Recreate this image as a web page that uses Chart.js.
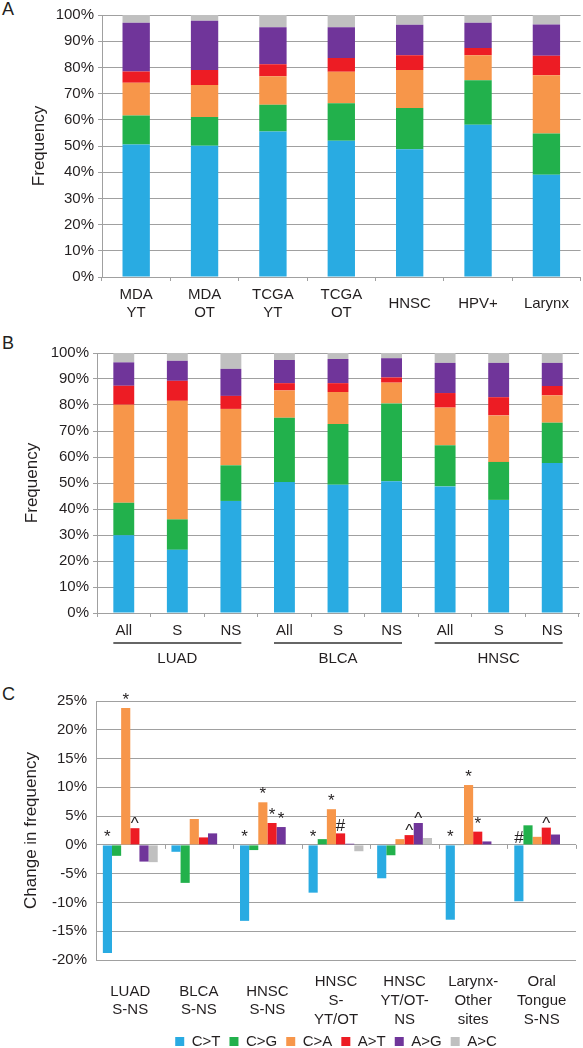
<!DOCTYPE html>
<html>
<head>
<meta charset="utf-8">
<script src="https://cdn.jsdelivr.net/npm/chart.js@4.4.1/dist/chart.umd.min.js"></script>
<style>
  body { margin: 0; background: #fff; width: 583px; height: 1048px; position: relative; overflow: hidden; font-family: "Liberation Sans", Arial, sans-serif; }
  .panel { position: absolute; left: 0; }
  .letter { position: absolute; left: 2px; font-size: 18px; line-height: 18px; color: #231f20; }
</style>
</head>
<body>
<div class="letter" style="top:0px">A</div>
<div class="letter" style="top:334px">B</div>
<div class="letter" style="top:685px">C</div>
<div class="panel" style="top:0px"><canvas id="chartA" width="583" height="335"></canvas></div>
<div class="panel" style="top:340px"><canvas id="chartB" width="583" height="330"></canvas></div>
<div class="panel" style="top:680px"><canvas id="chartC" width="583" height="379"></canvas></div>
<script>
const fontFamily = "'Liberation Sans', Arial, sans-serif";
const gridColor = "#a0a0a0";
const textColor = "#231f20";

const mutationTypes = ["C>T", "C>G", "C>A", "A>T", "A>G", "A>C"];
const colors = ["#29abe2", "#22b14c", "#f7964a", "#ed1c24", "#70359a", "#c0c0c0"];

// panel A - cohorts
const cohortsA = [["MDA", "YT"], ["MDA", "OT"], ["TCGA", "YT"], ["TCGA", "OT"], "HNSC", "HPV+", "Larynx"];
const ctA = [50.6, 50.1, 55.5, 52.0, 48.8, 58.1, 39.0];
const cgA = [11.0, 11.0, 10.2, 14.3, 15.7, 17.0, 15.8];
const caA = [12.5, 12.2, 10.9, 12.0, 14.5, 9.5, 22.2];
const atA = [4.3, 5.7, 4.6, 5.3, 5.6, 2.8, 7.4];
const agA = [18.6, 18.8, 14.1, 11.7, 11.7, 9.6, 12.0];
const acA = [3.0, 2.2, 4.7, 4.7, 3.7, 3.0, 3.6];

// panel B - smokers vs never smokers
const groupsB = ["LUAD", "BLCA", "HNSC"];
const subsetsB = ["All", "S", "NS", "All", "S", "NS", "All", "S", "NS"];
const ctB = [29.9, 24.3, 43.1, 50.4, 49.3, 50.7, 48.7, 43.5, 57.7];
const cgB = [12.5, 11.7, 13.7, 24.7, 23.4, 29.9, 15.8, 14.6, 15.5];
const caB = [37.7, 45.6, 21.7, 10.5, 12.3, 8.0, 14.5, 17.9, 10.5];
const atB = [7.3, 7.7, 5.0, 2.8, 3.4, 2.0, 5.6, 7.0, 3.6];
const agB = [9.0, 7.7, 10.4, 8.9, 9.3, 7.4, 11.6, 13.2, 8.9];
const acB = [3.6, 3.0, 6.1, 2.7, 2.3, 2.0, 3.8, 3.8, 3.8];

// panel C - change in frequency
const comparisonsC = [["LUAD", "S-NS"], ["BLCA", "S-NS"], ["HNSC", "S-NS"], ["HNSC", "S-", "YT/OT"], ["HNSC", "YT/OT-", "NS"], ["Larynx-", "Other", "sites"], ["Oral", "Tongue", "S-NS"]];
const ctC = [-18.8, -1.2, -13.2, -8.3, -5.8, -13.0, -9.8];
const cgC = [-1.9, -6.6, -0.9, 1.0, -1.8, -0.1, 3.4];
const caC = [23.8, 4.5, 7.4, 6.2, 1.0, 10.4, 1.4];
const atC = [2.9, 1.3, 3.8, 2.0, 1.7, 2.3, 3.0];
const agC = [-2.9, 2.0, 3.1, 0.2, 3.8, 0.6, 1.8];
const acC = [-3.0, 0, 0, -1.1, 1.2, 0, 0];
// [comparison, mutation type, symbol]
const marksC = [
  [0, 0, "*"], [0, 2, "*"], [0, 3, "^"],
  [2, 0, "*"], [2, 2, "*"], [2, 3, "*"], [2, 4, "*"],
  [3, 0, "*"], [3, 2, "*"], [3, 3, "#"],
  [4, 3, "^"], [4, 4, "^"],
  [5, 0, "*"], [5, 2, "*"], [5, 3, "*"],
  [6, 0, "#"], [6, 3, "^"],
];

Chart.defaults.font.family = fontFamily;
Chart.defaults.font.size = 15;
Chart.defaults.color = textColor;
Chart.defaults.animation = false;

const pct = (v) => v + "%";

function makeStacked(id, labels, series, opts) {
  return new Chart(document.getElementById(id), {
    type: "bar",
    data: {
      labels: labels,
      datasets: series.map((data, i) => ({
        label: mutationTypes[i],
        data: data,
        backgroundColor: colors[i],
        barPercentage: opts.bar,
        categoryPercentage: 1,
      })),
    },
    options: {
      responsive: false,
      layout: { padding: { top: opts.top, right: opts.right, left: 0, bottom: 0 } },
      plugins: { legend: { display: false }, tooltip: { enabled: false } },
      scales: {
        x: {
          stacked: true,
          grid: { drawOnChartArea: false, offset: true, tickLength: 4, color: gridColor },
          border: { color: gridColor },
          ticks: { padding: 14, autoSkip: false, maxRotation: 0, crossAlign: "center", font: { size: 15, lineHeight: 1.2 } },
          afterFit: (s) => { s.height = opts.xh; },
        },
        y: {
          stacked: true,
          min: 0,
          max: 100,
          ticks: { stepSize: 10, padding: 4, callback: pct },
          grid: { color: gridColor, tickLength: 4 },
          border: { color: gridColor },
          title: { display: true, text: "Frequency", font: { size: 17 }, padding: { top: opts.titlePad, bottom: 0 } },
          afterFit: (s) => { s.width = opts.yw; },
        },
      },
    },
    plugins: opts.plugins || [],
  });
}

// underline + name for each tumour group in panel B
const groupLabels = {
  id: "groupLabels",
  afterDraw(chart) {
    const ctx = chart.ctx;
    const meta = chart.getDatasetMeta(0);
    const bottom = chart.chartArea.bottom;
    ctx.save();
    groupsB.forEach((name, g) => {
      const first = meta.data[g * 3];
      const last = meta.data[g * 3 + 2];
      const x1 = first.x - first.width / 2;
      const x2 = last.x + last.width / 2;
      ctx.strokeStyle = "#333";
      ctx.lineWidth = 1.5;
      ctx.beginPath();
      ctx.moveTo(x1, bottom + 30);
      ctx.lineTo(x2, bottom + 30);
      ctx.stroke();
      ctx.fillStyle = textColor;
      ctx.font = "15px " + fontFamily;
      ctx.textAlign = "center";
      ctx.textBaseline = "middle";
      ctx.fillText(name, (x1 + x2) / 2, bottom + 46);
    });
    ctx.restore();
  },
};

makeStacked("chartA", cohortsA, [ctA, cgA, caA, atA, agA, acA], {
  bar: 0.4, top: 15, right: 1, xh: 58, yw: 102, titlePad: 29,
});

makeStacked("chartB", subsetsB, [ctB, cgB, caB, atB, agB, acB], {
  bar: 0.39, top: 11, right: 4, xh: 57, yw: 97, titlePad: 22, plugins: [groupLabels],
});

// significance symbols and small category ticks on the zero line
const marks = {
  id: "marks",
  afterDatasetsDraw(chart) {
    const ctx = chart.ctx;
    const x = chart.scales.x;
    const zero = chart.scales.y.getPixelForValue(0);
    ctx.save();
    ctx.strokeStyle = gridColor;
    ctx.lineWidth = 1;
    for (let i = 0; i <= comparisonsC.length; i++) {
      const px = Math.round(x.left + (i * x.width) / comparisonsC.length) + 0.5;
      ctx.beginPath();
      ctx.moveTo(px, zero);
      ctx.lineTo(px, zero + 4);
      ctx.stroke();
    }
    ctx.fillStyle = textColor;
    ctx.textAlign = "center";
    ctx.textBaseline = "alphabetic";
    ctx.font = "17px " + fontFamily;
    const lift = { "*": 3, "^": -1, "#": 2.5 };
    for (const [cat, series, sym] of marksC) {
      const bar = chart.getDatasetMeta(series).data[cat];
      const top = Math.min(bar.y, bar.base);
      ctx.fillText(sym, bar.x, top - lift[sym]);
    }
    ctx.restore();
  },
};

new Chart(document.getElementById("chartC"), {
  type: "bar",
  data: {
    labels: comparisonsC,
    datasets: [ctC, cgC, caC, atC, agC, acC].map((data, i) => ({
      label: mutationTypes[i],
      data: data,
      backgroundColor: colors[i],
      barPercentage: 1,
      categoryPercentage: 0.8,
    })),
  },
  options: {
    responsive: false,
    layout: { padding: { top: 21, right: 7, left: 0, bottom: 0 } },
    plugins: {
      legend: {
        position: "bottom",
        fullSize: false,
        labels: { boxWidth: 9, boxHeight: 9, padding: 9, font: { size: 15 } },
      },
      tooltip: { enabled: false },
    },
    scales: {
      x: {
        grid: { display: false },
        border: { display: false },
        ticks: { padding: 14, autoSkip: false, maxRotation: 0, crossAlign: "center", font: { size: 15, lineHeight: 1.25 } },
        afterFit: (s) => { s.height = 65; },
      },
      y: {
        min: -20,
        max: 25,
        ticks: { stepSize: 5, padding: 9, callback: pct },
        grid: { color: gridColor, drawTicks: false },
        border: { color: gridColor },
        title: { display: true, text: "Change in frequency", font: { size: 17 }, padding: { top: 21, bottom: 0 } },
        afterFit: (s) => { s.width = 96; },
      },
    },
  },
  plugins: [marks],
});
</script>
</body>
</html>
